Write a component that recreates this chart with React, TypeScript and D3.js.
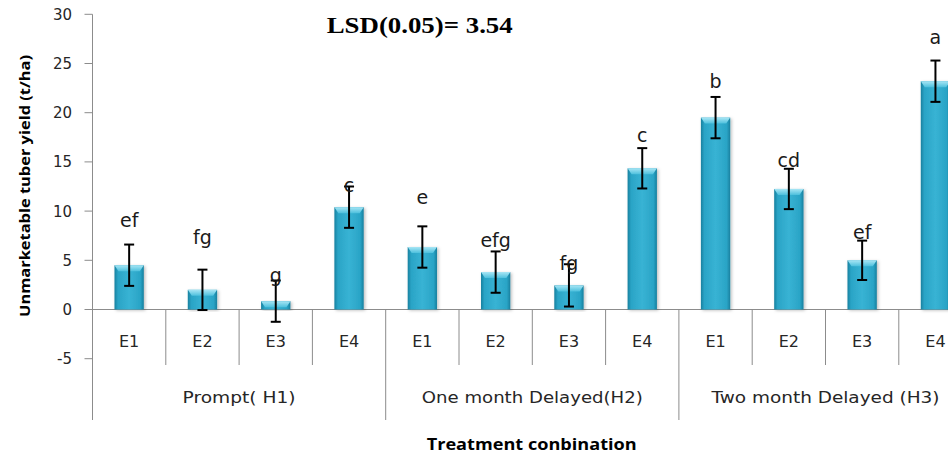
import React from "react";
import * as d3 from "d3";

const groups = ["Prompt( H1)", "One month Delayed(H2)", "Two month Delayed (H3)"];
const entries = ["E1", "E2", "E3", "E4"];
const yields = [4.5, 2.0, 0.85, 10.4, 6.35, 3.8, 2.45, 14.35, 19.5, 12.25, 5.0, 23.2];
const errors = [2.1, 2.05, 2.1, 2.1, 2.1, 2.1, 2.15, 2.05, 2.1, 2.05, 2.0, 2.1];
const letters = ["ef", "fg", "g", "c", "e", "efg", "fg", "c", "b", "cd", "ef", "a"];
const letterAt = [8.4, 6.7, 2.8, 11.9, 10.7, 6.4, 4.0, 17.05, 22.5, 14.45, 7.2, 27.0];
const yTicks = [30, 25, 20, 15, 10, 5, 0, -5];

const W = 948;
const H = 456;
const left = 92.5;
const step = 73.3;
const font = "'DejaVu Sans', sans-serif";

export default function App() {
  const cats = d3.range(groups.length * entries.length);
  const x = d3
    .scaleBand<number>()
    .domain(cats)
    .range([left, left + step * cats.length])
    .paddingInner(0.6)
    .paddingOuter(0.3);
  const y = d3.scaleLinear().domain([-5, 30]).range([358.7, 14.3]);
  const bw = x.bandwidth();
  const y0 = y(0);
  const catBottom = 365;
  const axisBottom = 420;
  const groupLens = [113, 221, 228];

  return (
    <svg width={W} height={H} style={{ position: "absolute", left: 0, top: 0 }}>
      <defs>
        <linearGradient id="barFill" x1="0" x2="1" y1="0" y2="0">
          <stop offset="0" stopColor="#17809f" />
          <stop offset="0.12" stopColor="#2aa4c6" />
          <stop offset="0.5" stopColor="#38b3d4" />
          <stop offset="0.88" stopColor="#2aa4c6" />
          <stop offset="1" stopColor="#17809f" />
        </linearGradient>
        <linearGradient id="capFill" x1="0" x2="0" y1="0" y2="1">
          <stop offset="0" stopColor="#a8e6f5" />
          <stop offset="1" stopColor="#4dc0dd" />
        </linearGradient>
        <filter id="shadow" x="-30%" y="-10%" width="160%" height="120%">
          <feDropShadow dx="1.5" dy="1" stdDeviation="1.5" floodColor="#000" floodOpacity="0.25" />
        </filter>
      </defs>

      <rect width={W} height={H} fill="#fff" />

      {/* y axis */}
      <line x1={left} x2={left} y1={y(30)} y2={axisBottom} stroke="#8c8c8c" strokeWidth={1} />
      {yTicks.map((t) => (
        <g key={t}>
          <line x1={left - 8} x2={left} y1={y(t)} y2={y(t)} stroke="#8c8c8c" strokeWidth={1} />
          <text x={72} y={y(t)} dy="0.36em" textAnchor="end" fontFamily={font} fontSize={15} fill="#262626">
            {t}
          </text>
        </g>
      ))}

      {/* zero line and category dividers */}
      <line x1={left} x2={W} y1={y0} y2={y0} stroke="#8c8c8c" strokeWidth={1} />
      {d3.range(1, cats.length + 1).map((i) => (
        <line
          key={i}
          x1={left + step * i}
          x2={left + step * i}
          y1={y0}
          y2={i % entries.length === 0 ? axisBottom : catBottom}
          stroke="#8c8c8c"
          strokeWidth={1}
        />
      ))}

      {/* bars */}
      {cats.map((i) => {
        const bx = x(i)!;
        const by = y(yields[i]);
        const h = y0 - by;
        return (
          <g key={i}>
            <rect x={bx} y={by} width={bw} height={h} fill="url(#barFill)" filter="url(#shadow)" />
            <polygon
              points={`${bx},${by} ${bx + bw},${by} ${bx + bw - 4},${by + 6} ${bx + 4},${by + 6}`}
              fill="url(#capFill)"
            />
          </g>
        );
      })}

      {/* error bars */}
      {cats.map((i) => {
        const cx = x(i)! + bw / 2;
        const top = y(yields[i] + errors[i]);
        const bot = y(yields[i] - errors[i]);
        return (
          <g key={i} stroke="#000" strokeWidth={2}>
            <line x1={cx} x2={cx} y1={top} y2={bot} />
            <line x1={cx - 5} x2={cx + 5} y1={top} y2={top} />
            <line x1={cx - 5} x2={cx + 5} y1={bot} y2={bot} />
          </g>
        );
      })}

      {/* significance letters */}
      {cats.map((i) => (
        <text
          key={i}
          x={x(i)! + bw / 2}
          y={y(letterAt[i])}
          textAnchor="middle"
          fontFamily={font}
          fontSize={19}
          fill="#1a1a1a"
        >
          {letters[i]}
        </text>
      ))}

      {/* category labels */}
      {cats.map((i) => (
        <text
          key={i}
          x={x(i)! + bw / 2}
          y={346.7}
          textAnchor="middle"
          fontFamily={font}
          fontSize={16}
          fill="#262626"
        >
          {entries[i % entries.length]}
        </text>
      ))}

      {/* group labels */}
      {groups.map((g, gi) => {
        const cx = left + step * entries.length * (gi + 0.5);
        return (
          <text
            key={g}
            x={cx}
            y={403}
            textAnchor="middle"
            fontFamily={font}
            fontSize={16}
            fill="#262626"
            textLength={groupLens[gi]}
            lengthAdjust="spacingAndGlyphs"
          >
            {g}
          </text>
        );
      })}

      {/* titles */}
      <text
        x={326.7}
        y={33}
        fontFamily="'Liberation Serif', 'Times New Roman', serif"
        fontWeight="bold"
        fontSize={24}
        fill="#000"
        textLength={186}
        lengthAdjust="spacingAndGlyphs"
      >
        LSD(0.05)= 3.54
      </text>
      <text
        transform={`translate(30, ${(55 + 317) / 2}) rotate(-90)`}
        textAnchor="middle"
        fontFamily="'Open Sans', sans-serif"
        fontWeight="bold"
        fontSize={15}
        fill="#000"
        textLength={262}
        lengthAdjust="spacingAndGlyphs"
      >
        Unmarketable tuber yield (t/ha)
      </text>
      <text
        x={531.7}
        y={450}
        textAnchor="middle"
        fontFamily="'Open Sans', sans-serif"
        fontWeight="bold"
        fontSize={16}
        fill="#000"
        textLength={210}
        lengthAdjust="spacingAndGlyphs"
      >
        Treatment conbination
      </text>
    </svg>
  );
}
